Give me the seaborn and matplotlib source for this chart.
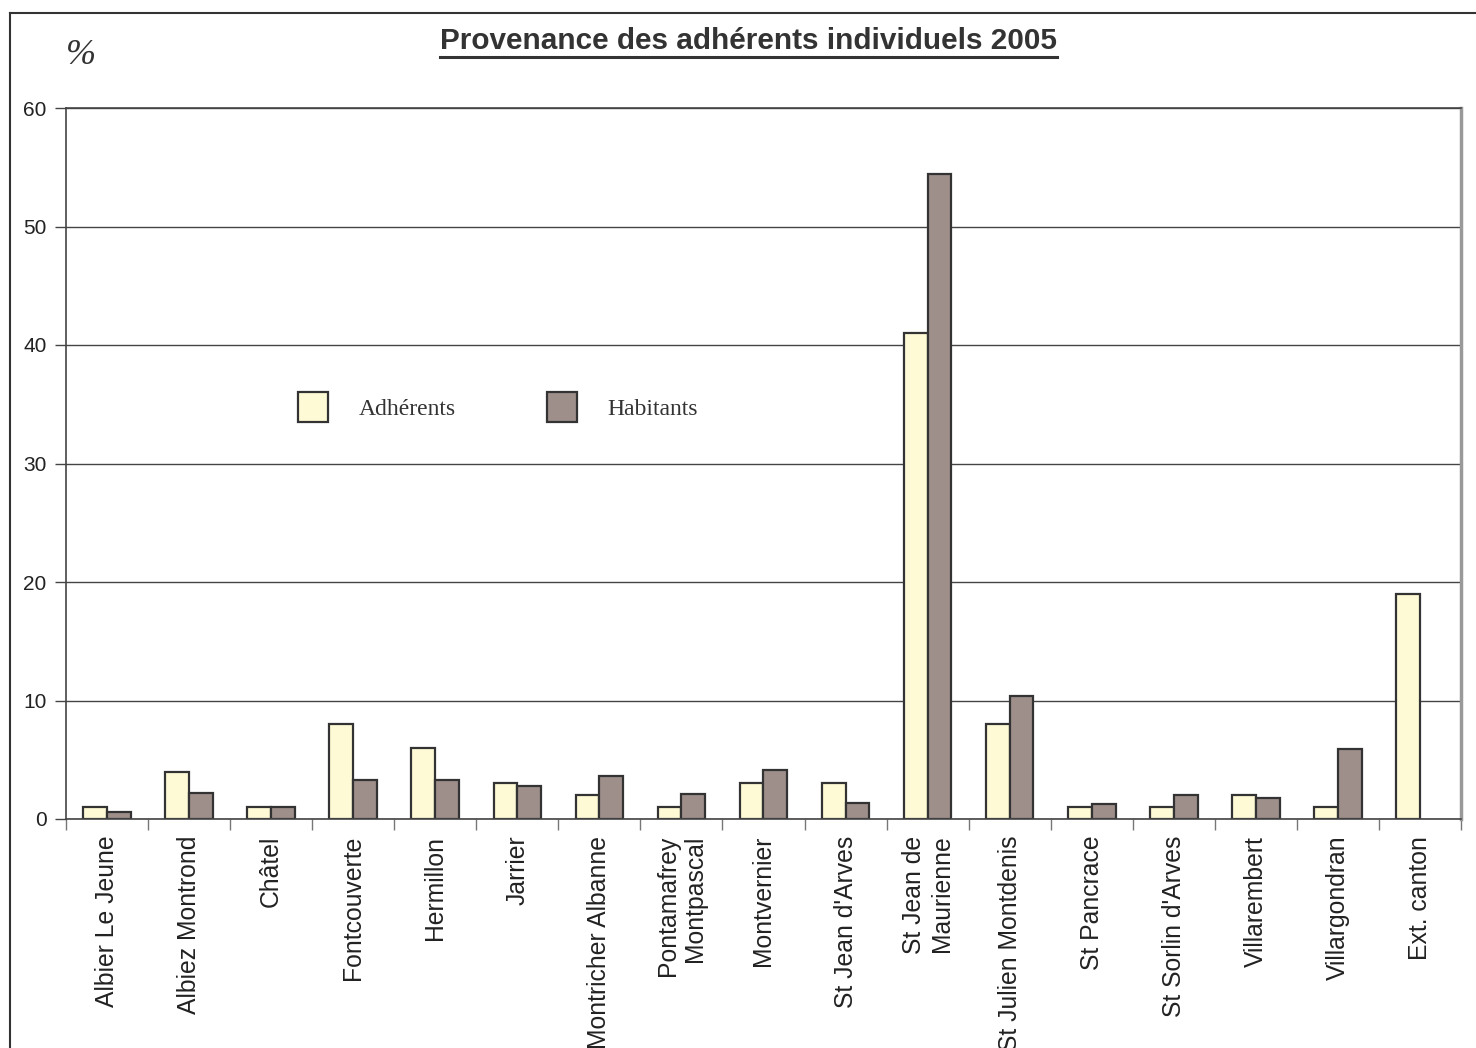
import numpy as np
import pandas as pd
import seaborn as sns
import matplotlib.pyplot as plt
from matplotlib.lines import Line2D

communes = ['Albier Le Jeune', 'Albiez Montrond', 'Châtel', 'Fontcouverte', 'Hermillon',
            'Jarrier', 'Montricher Albanne', 'Pontamafrey\nMontpascal', 'Montvernier',
            "St Jean d'Arves", 'St Jean de\nMaurienne', 'St Julien Montdenis', 'St Pancrace',
            "St Sorlin d'Arves", 'Villarembert', 'Villargondran', 'Ext. canton']
adherents = [1, 4, 1, 8, 6, 3, 2, 1, 3, 3, 41, 8, 1, 1, 2, 1, 19]
habitants = [0.56, 2.2, 1.0, 3.3, 3.28, 2.75, 3.65, 2.12, 4.1, 1.33, 54.4, 10.4, 1.3, 2.0, 1.78, 5.93, np.nan]
series = ['Adhérents', 'Habitants']

df = pd.DataFrame({'commune': communes * 2,
                   'serie': [series[0]] * len(communes) + [series[1]] * len(communes),
                   'valeur': adherents + habitants})

W, H = 1476, 1048
fig = plt.figure(figsize=(W / 100, H / 100), dpi=100)
ax = fig.add_axes([66 / W, 1 - 819 / H, (1461 - 66) / W, (819 - 108) / H])

palette = {'Adhérents': '#fffad6', 'Habitants': '#9e8f8a'}
sns.barplot(data=df, x='commune', y='valeur', hue='serie', palette=palette,
            width=0.58, gap=0, edgecolor='#333333', linewidth=1.6, saturation=1,
            errorbar=None, ax=ax)

ax.set_ylim(0, 60)
ax.set_xlim(-0.5, len(communes) - 0.5)
ax.set_yticks(range(0, 61, 10))
ax.set_axisbelow(True)
ax.yaxis.grid(True, color='#444444', linewidth=1)
ax.set_xlabel('')
ax.set_ylabel('')

# ticks between categories
ax.set_xticks(np.arange(len(communes)))
ax.set_xticks(np.arange(-0.5, len(communes), 1), minor=True)
ax.tick_params(axis='x', which='major', length=0, pad=12)
ax.tick_params(axis='x', which='minor', length=8, color='#777777', width=1)
ax.tick_params(axis='y', length=8, color='#444444', width=1, labelsize=15, labelcolor='#222222', pad=6)
for lab in ax.get_xticklabels():
    lab.set_rotation(90)
    lab.set_ha('center')
    lab.set_va('top')
    lab.set_multialignment('right')
    lab.set_fontsize(17.8)
    lab.set_color('#222222')
    lab.set_fontfamily('Liberation Sans')
for lab in ax.get_yticklabels():
    lab.set_fontfamily('Liberation Sans')

for s in ['left', 'bottom', 'top']:
    ax.spines[s].set_color('#444444')
    ax.spines[s].set_linewidth(1.2)
ax.spines['right'].set_color('#999999')
ax.spines['right'].set_linewidth(2.5)

# legend
handles, labels = ax.get_legend_handles_labels()
ax.legend(handles, labels, ncol=2, frameon=False, loc='center left',
          bbox_to_anchor=(298 / W, 1 - 407 / H), bbox_transform=fig.transFigure,
          borderpad=0, borderaxespad=0, handleheight=1.52, handlelength=1.27,
          handletextpad=1.3, columnspacing=3.85,
          prop={'family': 'Liberation Serif', 'size': 17})
for t in ax.get_legend().get_texts():
    t.set_color('#333333')

# title with underline
title = fig.text(748 / W, 1 - 41 / H, 'Provenance des adhérents individuels 2005',
                 ha='center', va='center', fontsize=21.4, fontweight='bold',
                 family='Liberation Sans', color='#333333')
fig.canvas.draw()
bb = title.get_window_extent().transformed(fig.transFigure.inverted())
fig.add_artist(Line2D([bb.x0, bb.x1], [bb.y0 - 0.002, bb.y0 - 0.002],
                      transform=fig.transFigure, color='#333333', linewidth=2.2))

fig.text(66 / W, 1 - 56 / H, '%', ha='left', va='center', fontsize=26,
         style='italic', family='Liberation Serif', color='#333333')

# outer frame
fig.add_artist(Line2D([10 / W, 10 / W], [0, 1 - 13 / H], transform=fig.transFigure,
                      color='#333333', linewidth=1.5))
fig.add_artist(Line2D([10 / W, 1], [1 - 13 / H, 1 - 13 / H], transform=fig.transFigure,
                      color='#333333', linewidth=1.5))

fig.savefig('out.png', dpi=100)
